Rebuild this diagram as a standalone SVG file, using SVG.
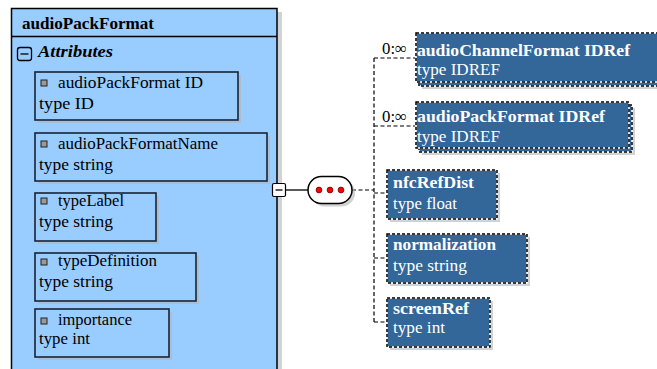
<svg xmlns="http://www.w3.org/2000/svg" width="657" height="369" viewBox="0 0 657 369">
<style>
text{font-family:"Liberation Serif","Times New Roman",serif;font-size:17px}
.b{font-weight:bold}
.w{fill:#fff}
.attr{fill:#99ccff;stroke:#1a2436;stroke-width:1.6}
.sh{fill:#b4b4b4;opacity:0.6}
.el{fill:#336699;stroke:#fff;stroke-width:1.5}
.dash{fill:none;stroke:#000;stroke-width:1.5;stroke-dasharray:3 2}
.con{fill:none;stroke:#000;stroke-width:1.2;stroke-dasharray:4 2.5}
.ico{fill:#9a9a9a;stroke:#222;stroke-width:1}
</style>
<rect width="657" height="369" fill="#fff"/>
<g id="audioPackFormat">
<rect x="277" y="12" width="5" height="370" class="sh"/>
<rect x="11.5" y="8.5" width="265.5" height="372" fill="#99ccff" stroke="#000" stroke-width="1.5"/>
<line x1="11.5" y1="36.5" x2="277" y2="36.5" stroke="#000" stroke-width="1.5"/>
<text x="22" y="29" class="b" font-size="17.5" textLength="132" lengthAdjust="spacingAndGlyphs">audioPackFormat</text>
<rect x="17.5" y="47.5" width="14" height="13" rx="2.5" fill="none" stroke="#000" stroke-width="1.3"/>
<line x1="20.5" y1="54" x2="28.5" y2="54" stroke="#000" stroke-width="1.3"/>
<text x="38" y="57" class="b" font-style="italic" font-size="17.5" textLength="75" lengthAdjust="spacingAndGlyphs">Attributes</text>
</g>
<g id="attr-audioPackFormatID">
<rect x="38" y="75" width="203" height="48" class="sh"/>
<rect x="35" y="72" width="203" height="48" class="attr"/>
<rect x="41" y="80" width="6" height="6" class="ico"/>
<text x="58" y="88" textLength="145" lengthAdjust="spacingAndGlyphs">audioPackFormat ID</text>
<text x="39" y="109" textLength="55" lengthAdjust="spacingAndGlyphs">type ID</text>
</g>
<g id="attr-audioPackFormatName">
<rect x="38" y="136" width="232" height="48" class="sh"/>
<rect x="35" y="133" width="232" height="48" class="attr"/>
<rect x="41" y="141" width="6" height="6" class="ico"/>
<text x="58" y="149" textLength="160" lengthAdjust="spacingAndGlyphs">audioPackFormatName</text>
<text x="39" y="170" textLength="74" lengthAdjust="spacingAndGlyphs">type string</text>
</g>
<g id="attr-typeLabel">
<rect x="38" y="196" width="121" height="48" class="sh"/>
<rect x="35" y="193" width="121" height="48" class="attr"/>
<rect x="41" y="198" width="6" height="6" class="ico"/>
<text x="58" y="206" textLength="66" lengthAdjust="spacingAndGlyphs">typeLabel</text>
<text x="39" y="227" textLength="74" lengthAdjust="spacingAndGlyphs">type string</text>
</g>
<g id="attr-typeDefinition">
<rect x="38" y="256" width="161" height="48" class="sh"/>
<rect x="35" y="253" width="161" height="48" class="attr"/>
<rect x="41" y="259" width="6" height="6" class="ico"/>
<text x="58" y="266" textLength="99" lengthAdjust="spacingAndGlyphs">typeDefinition</text>
<text x="39" y="287" textLength="74" lengthAdjust="spacingAndGlyphs">type string</text>
</g>
<g id="attr-importance">
<rect x="38" y="312" width="134" height="48" class="sh"/>
<rect x="35" y="309" width="134" height="48" class="attr"/>
<rect x="41" y="318" width="6" height="6" class="ico"/>
<text x="58" y="325" textLength="74" lengthAdjust="spacingAndGlyphs">importance</text>
<text x="39" y="344" textLength="51" lengthAdjust="spacingAndGlyphs">type int</text>
</g>
<g id="connectors">
<line x1="286" y1="190" x2="308" y2="190" stroke="#000" stroke-width="1.3"/>
<polyline points="352,190 374,190" class="con"/>
<line x1="374" y1="58" x2="374" y2="322" class="con"/>
<polyline points="374,58 416,58" class="con"/>
<polyline points="374,126 416,126" class="con"/>
<polyline points="374,193 387,193" class="con"/>
<polyline points="374,258 387,258" class="con"/>
<polyline points="374,322 387,322" class="con"/>
<text x="382" y="54" textLength="25" lengthAdjust="spacingAndGlyphs" font-size="15">0:∞</text>
<text x="382" y="122" textLength="25" lengthAdjust="spacingAndGlyphs" font-size="15">0:∞</text>
</g>
<g id="collapse">
<rect x="272.5" y="183.5" width="13" height="13" rx="1.5" fill="#fff" stroke="#000" stroke-width="1.2"/>
<line x1="275.5" y1="190" x2="282.5" y2="190" stroke="#000" stroke-width="1.3"/>
</g>
<g id="sequence">
<rect x="311" y="179.5" width="44" height="27" rx="13.5" class="sh"/>
<rect x="308" y="176.5" width="44" height="27" rx="13.5" fill="#fff" stroke="#000" stroke-width="1.5"/>
<circle cx="319" cy="190" r="2.9" fill="#f00" stroke="#700" stroke-width="0.8"/>
<circle cx="330" cy="190" r="2.9" fill="#f00" stroke="#700" stroke-width="0.8"/>
<circle cx="341" cy="190" r="2.9" fill="#f00" stroke="#700" stroke-width="0.8"/>
</g>
<g id="audioChannelFormatIDRef">
<rect x="422" y="39" width="245" height="50" class="sh"/>
<rect x="419" y="36" width="245" height="50" class="el"/>
<rect x="419" y="36" width="245" height="50" class="dash"/>
<rect x="416" y="33" width="245" height="49" class="el"/>
<rect x="416" y="33" width="245" height="49" class="dash"/>
<text x="417" y="56" class="b w" textLength="213" lengthAdjust="spacingAndGlyphs">audioChannelFormat IDRef</text>
<text x="417" y="75" class="w" textLength="83" lengthAdjust="spacingAndGlyphs">type IDREF</text>
</g>
<g id="audioPackFormatIDRef">
<rect x="422" y="108" width="213" height="47" class="sh"/>
<rect x="419" y="105" width="213" height="47" class="el"/>
<rect x="419" y="105" width="213" height="47" class="dash"/>
<rect x="416" y="102" width="213" height="46" class="el"/>
<rect x="416" y="102" width="213" height="46" class="dash"/>
<text x="417" y="122" class="b w" textLength="188" lengthAdjust="spacingAndGlyphs">audioPackFormat IDRef</text>
<text x="417" y="142" class="w" textLength="83" lengthAdjust="spacingAndGlyphs">type IDREF</text>
</g>
<g id="nfcRefDist">
<rect x="390" y="173" width="110" height="49" class="sh"/>
<rect x="387" y="170" width="110" height="49" class="el"/>
<rect x="387" y="170" width="110" height="49" class="dash"/>
<text x="393" y="188" class="b w" textLength="81" lengthAdjust="spacingAndGlyphs">nfcRefDist</text>
<text x="393" y="209" class="w" textLength="64" lengthAdjust="spacingAndGlyphs">type float</text>
</g>
<g id="normalization">
<rect x="390" y="237" width="140" height="49" class="sh"/>
<rect x="387" y="234" width="140" height="49" class="el"/>
<rect x="387" y="234" width="140" height="49" class="dash"/>
<text x="393" y="250" class="b w" textLength="103" lengthAdjust="spacingAndGlyphs">normalization</text>
<text x="393" y="271" class="w" textLength="74" lengthAdjust="spacingAndGlyphs">type string</text>
</g>
<g id="screenRef">
<rect x="390" y="301" width="103" height="49" class="sh"/>
<rect x="387" y="298" width="103" height="49" class="el"/>
<rect x="387" y="298" width="103" height="49" class="dash"/>
<text x="393" y="314" class="b w" textLength="76" lengthAdjust="spacingAndGlyphs">screenRef</text>
<text x="393" y="333" class="w" textLength="52" lengthAdjust="spacingAndGlyphs">type int</text>
</g>
</svg>
